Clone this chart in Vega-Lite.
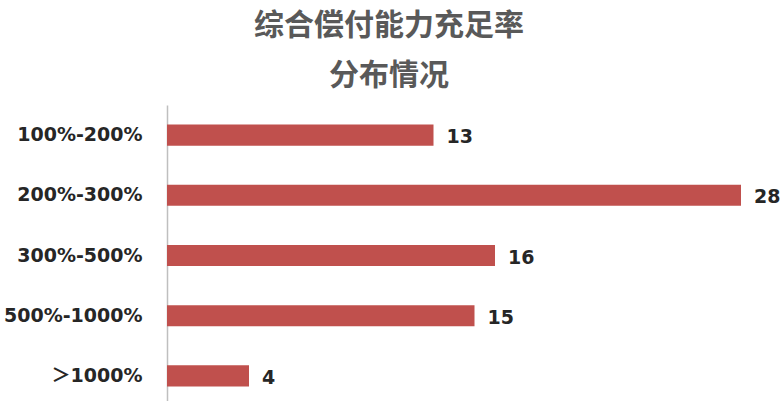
{
  "$schema": "https://vega.github.io/schema/vega-lite/v6.json",
  "autosize": "none",
  "padding": {"left": 167, "top": 105, "right": 40, "bottom": 0},
  "width": 574,
  "height": 301,
  "background": "white",
  "title": {
    "text": ["综合偿付能力充足率", "分布情况"],
    "font": "Noto Sans CJK SC",
    "fontSize": 30,
    "fontWeight": "bold",
    "color": "#595959",
    "lineHeight": 50,
    "anchor": "middle",
    "dx": -65,
    "offset": 14
  },
  "data": {
    "values": [
      {"range": "100%-200%", "count": 13},
      {"range": "200%-300%", "count": 28},
      {"range": "300%-500%", "count": 16},
      {"range": "500%-1000%", "count": 15},
      {"range": "＞1000%", "count": 4}
    ]
  },
  "encoding": {
    "y": {
      "field": "range",
      "type": "nominal",
      "sort": null,
      "title": null,
      "scale": {"paddingInner": 0.65, "paddingOuter": 0.325},
      "axis": {
        "ticks": false,
        "domainColor": "#BFBFBF",
        "domainWidth": 1.5,
        "labelFont": "'DejaVu Sans', 'Noto Sans CJK SC'",
        "labelFontSize": 19,
        "labelFontWeight": "bold",
        "labelColor": "#262626",
        "labelPadding": 25
      }
    },
    "x": {
      "field": "count",
      "type": "quantitative",
      "scale": {"domain": [0, 28]},
      "axis": null
    }
  },
  "layer": [
    {"mark": {"type": "bar", "color": "#C0504D"}},
    {
      "mark": {
        "type": "text",
        "align": "left",
        "dx": 13,
        "dy": 2,
        "font": "DejaVu Sans",
        "fontSize": 19,
        "fontWeight": "bold",
        "color": "#262626"
      },
      "encoding": {"text": {"field": "count", "type": "quantitative"}}
    }
  ],
  "config": {"view": {"stroke": null}}
}
